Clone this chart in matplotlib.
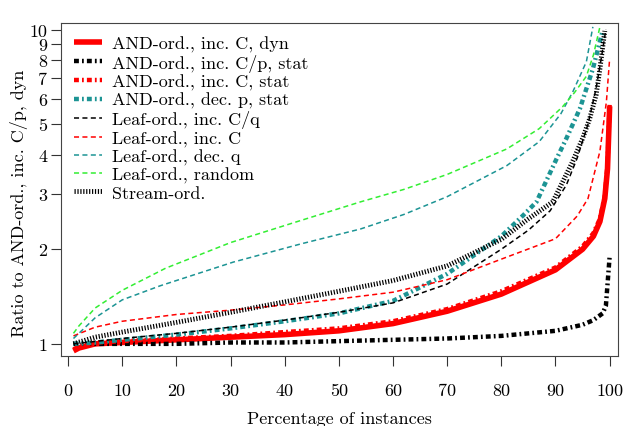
"""Ratio to AND-ord., inc. C/p, dyn versus percentage of instances (log y)."""

import matplotlib

matplotlib.use("Agg")
import matplotlib.pyplot as plt

# --- data ---
X_AND_DYN = [1, 2, 5, 10, 20, 30, 40, 50, 60, 70, 80, 90, 95, 97, 98.2, 99.1, 99.6, 100]
Y_AND_DYN = [0.95, 0.97, 1.0, 1.01, 1.03, 1.05, 1.07, 1.1, 1.16, 1.27, 1.44, 1.72, 2.0, 2.2, 2.45, 2.9, 3.6, 5.7]

X_AND_CP_STAT = [1, 10, 20, 30, 40, 50, 60, 70, 80, 90, 95, 97, 98.7, 99.3, 100]
Y_AND_CP_STAT = [1.0, 1.0, 1.0, 1.01, 1.01, 1.02, 1.03, 1.04, 1.06, 1.10, 1.15, 1.19, 1.25, 1.32, 1.9]

X_AND_C_STAT = [1, 2, 5, 10, 20, 30, 40, 50, 60, 70, 80, 90, 95, 97, 98.2, 99.1, 99.6, 100]
Y_AND_C_STAT = [0.96, 0.98, 1.01, 1.02, 1.04, 1.06, 1.09, 1.12, 1.18, 1.29, 1.47, 1.75, 2.04, 2.25, 2.5, 2.95, 3.7, 5.8]

X_AND_P_STAT = [1, 5, 10, 20, 30, 40, 50, 60, 70, 80, 84, 86.5, 90.2, 92, 94.5, 96.9, 98.7]
Y_AND_P_STAT = [1.0, 1.01, 1.03, 1.07, 1.12, 1.18, 1.25, 1.37, 1.67, 2.2, 2.56, 2.83, 3.88, 4.5, 5.6, 7.5, 9.9]

X_LEAF_CQ = [1, 10, 20, 30, 40, 50, 60, 70, 80, 85, 89, 92, 94, 96, 97.5, 98.5, 99.3]
Y_LEAF_CQ = [1.0, 1.04, 1.08, 1.13, 1.19, 1.26, 1.35, 1.55, 2.0, 2.3, 2.65, 3.2, 3.9, 5.0, 6.5, 8.2, 10.0]

X_LEAF_C = [1, 5, 10, 20, 30, 40, 50, 60, 70, 80, 90, 94, 96, 98.2, 99.4, 100]
Y_LEAF_C = [1.06, 1.13, 1.18, 1.24, 1.28, 1.33, 1.39, 1.46, 1.6, 1.86, 2.16, 2.55, 2.9, 4.1, 5.9, 8.1]

X_LEAF_Q = [1, 2, 5, 10, 17, 30.5, 43, 54, 62, 70, 81, 87, 91, 93.2, 95.7, 96.9]
Y_LEAF_Q = [1.04, 1.08, 1.21, 1.38, 1.53, 1.82, 2.08, 2.32, 2.58, 2.94, 3.69, 4.4, 5.4, 6.34, 7.9, 10.2]

X_LEAF_RAND = [1, 2, 5, 10, 18, 30, 43, 54, 62, 70, 81, 87, 91.3, 93.5, 95.7, 97, 98.2]
Y_LEAF_RAND = [1.08, 1.14, 1.30, 1.48, 1.74, 2.10, 2.47, 2.83, 3.1, 3.46, 4.17, 4.84, 5.68, 6.3, 7.1, 8.3, 10.2]

X_STREAM = [1, 5, 10, 20, 30, 40, 50, 60, 70, 80, 85, 89.5, 93, 95, 96.3, 97.5, 98.2, 99.1]
Y_STREAM = [1.0, 1.05, 1.09, 1.17, 1.26, 1.36, 1.47, 1.59, 1.77, 2.15, 2.5, 2.83, 3.75, 4.5, 5.2, 6.2, 7.5, 9.9]

Y_TICKS = [1, 2, 3, 4, 5, 6, 7, 8, 9, 10]
X_TICKS = [0, 10, 20, 30, 40, 50, 60, 70, 80, 90, 100]

RED = "#FF0000"
TEAL = "#1C9494"
GREEN = "#33EE33"
BLACK = "#000000"

plt.rcParams.update({
    "font.family": ["cmr10", "DejaVu Serif"],
    "axes.unicode_minus": False,
    "font.size": 13,
    "axes.formatter.use_mathtext": False,
})

fig = plt.figure(figsize=(6.27, 4.27), dpi=100)
ax = fig.add_axes([0.0973, 0.164, 0.888, 0.780])

DASHDOT = (0, (1.1, 0.7, 0.4, 0.7))
DOTTED = (0, (0.25, 0.35))
DASHED = (0, (3.3, 2.2))

series = [
    (X_AND_DYN, Y_AND_DYN, RED, "-", 4.0, "AND-ord., inc. C, dyn"),
    (X_AND_CP_STAT, Y_AND_CP_STAT, BLACK, DASHDOT, 3.2, "AND-ord., inc. C/p, stat"),
    (X_AND_C_STAT, Y_AND_C_STAT, RED, DASHDOT, 3.2, "AND-ord., inc. C, stat"),
    (X_AND_P_STAT, Y_AND_P_STAT, TEAL, DASHDOT, 3.2, "AND-ord., dec. p, stat"),
    (X_LEAF_CQ, Y_LEAF_CQ, BLACK, DASHED, 1.1, "Leaf-ord., inc. C/q"),
    (X_LEAF_C, Y_LEAF_C, RED, DASHED, 1.1, "Leaf-ord., inc. C"),
    (X_LEAF_Q, Y_LEAF_Q, TEAL, DASHED, 1.1, "Leaf-ord., dec. q"),
    (X_LEAF_RAND, Y_LEAF_RAND, GREEN, DASHED, 1.1, "Leaf-ord., random"),
    (X_STREAM, Y_STREAM, BLACK, DOTTED, 3.5, "Stream-ord."),
]
for xs, ys, col, ls, lw, lab in series:
    ax.plot(xs, ys, color=col, linestyle=ls, linewidth=lw, label=lab,
            dash_capstyle="butt", solid_capstyle="butt")

ax.set_yscale("log")
ax.set_xlim(-1.3, 101.5)
ax.set_ylim(0.915, 10.5)
ax.set_yticks(Y_TICKS)
ax.set_yticklabels([str(t) for t in Y_TICKS])
ax.yaxis.set_minor_locator(matplotlib.ticker.NullLocator())
ax.set_xticks(X_TICKS)
ax.set_xticklabels([str(t) for t in X_TICKS])
ax.tick_params(direction="out", length=7, width=0.8, color="#333333", labelsize=13)
ax.tick_params(axis="x", pad=12)
ax.tick_params(axis="y", pad=3)
for sp in ax.spines.values():
    sp.set_linewidth(0.8)
    sp.set_color("#444444")

ax.set_xlabel("Percentage of instances", fontsize=13, labelpad=9)
ax.set_ylabel("Ratio to AND-ord., inc. C/p, dyn", fontsize=13)
ax.yaxis.set_label_coords(-0.059, 0.46)

ax.legend(loc="upper left", bbox_to_anchor=(0.0, 1.0), frameon=False, fontsize=13,
          handlelength=1.55, handletextpad=0.55, labelspacing=0.11, borderaxespad=0.3)

fig.savefig("out.png", dpi=100, facecolor="white")
